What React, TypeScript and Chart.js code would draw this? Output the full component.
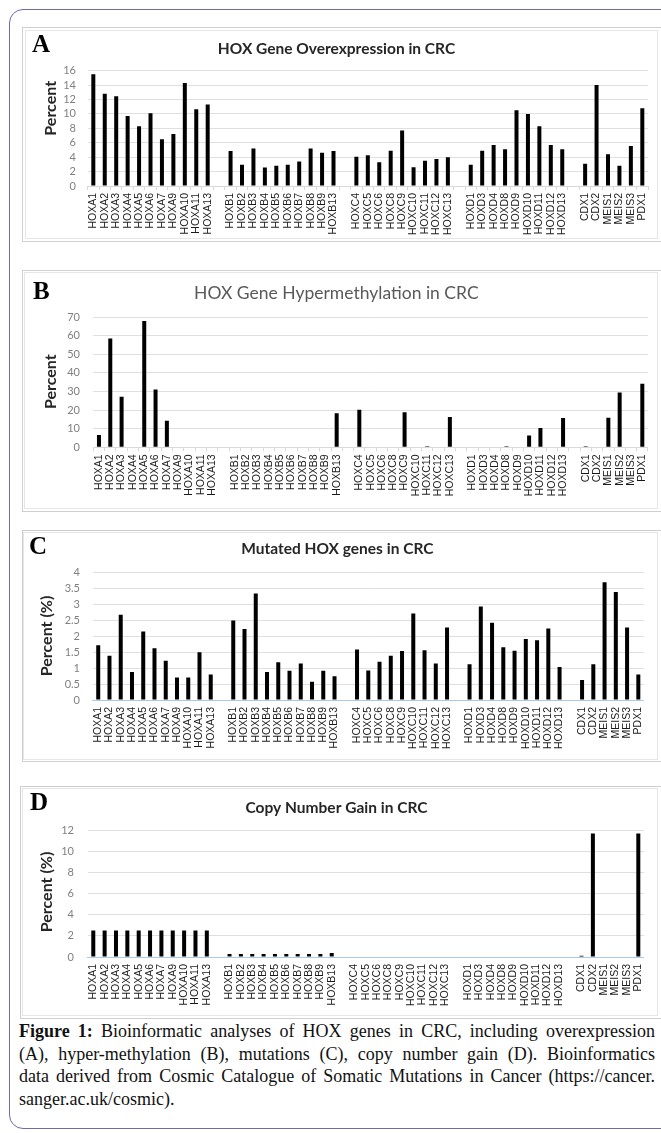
import React, { useEffect, useRef } from "react";
import { Chart, registerables } from "chart.js";
Chart.register(...registerables);

// ---------- data ----------
const genes: string[] = [
  "HOXA1", "HOXA2", "HOXA3", "HOXA4", "HOXA5", "HOXA6", "HOXA7", "HOXA9", "HOXA10", "HOXA11", "HOXA13", "",
  "HOXB1", "HOXB2", "HOXB3", "HOXB4", "HOXB5", "HOXB6", "HOXB7", "HOXB8", "HOXB9", "HOXB13", "",
  "HOXC4", "HOXC5", "HOXC6", "HOXC8", "HOXC9", "HOXC10", "HOXC11", "HOXC12", "HOXC13", "",
  "HOXD1", "HOXD3", "HOXD4", "HOXD8", "HOXD9", "HOXD10", "HOXD11", "HOXD12", "HOXD13", "",
  "CDX1", "CDX2", "MEIS1", "MEIS2", "MEIS3", "PDX1",
];

const overexpression: (number | null)[] = [
  15.5, 12.8, 12.45, 9.7, 8.3, 10.1, 6.5, 7.2, 14.3, 10.65, 11.3, null,
  4.86, 2.96, 5.2, 2.55, 2.8, 2.96, 3.4, 5.2, 4.6, 4.86, null,
  4.07, 4.26, 3.3, 4.9, 7.7, 2.6, 3.5, 3.75, 4.0, null,
  2.96, 4.9, 5.7, 5.1, 10.5, 10.0, 8.3, 5.7, 5.1, null,
  3.1, 14.0, 4.4, 2.8, 5.55, 10.8,
];

const hypermethylation: (number | null)[] = [
  6.6, 58.5, 27.2, 0, 67.8, 31.1, 14.3, 0, 0, 0, 0, null,
  0, 0, 0, 0, 0, 0, 0, 0, 0, 18.3, null,
  20.2, 0, 0, 0, 18.8, 0, 0.6, 0, 16.3, null,
  0, 0, 0, 0.6, 0, 6.4, 10.4, 0, 15.75, null,
  0.6, 0, 15.9, 29.4, 0, 34.2,
];

const mutated: (number | null)[] = [
  1.72, 1.39, 2.68, 0.88, 2.15, 1.63, 1.23, 0.71, 0.71, 1.5, 0.8, null,
  2.5, 2.23, 3.35, 0.88, 1.19, 0.92, 1.15, 0.57, 0.92, 0.75, null,
  1.59, 0.93, 1.2, 1.39, 1.54, 2.72, 1.56, 1.15, 2.28, null,
  1.12, 2.94, 2.43, 1.66, 1.55, 1.92, 1.88, 2.25, 1.04, null,
  0.63, 1.12, 3.7, 3.39, 2.28, 0.8,
];

const copyGain: (number | null)[] = [
  2.5, 2.5, 2.5, 2.5, 2.5, 2.5, 2.5, 2.5, 2.5, 2.5, 2.5, null,
  0.28, 0.28, 0.28, 0.28, 0.28, 0.28, 0.28, 0.28, 0.28, 0.38, null,
  0, 0, 0, 0, 0, 0, 0, 0, 0, null,
  0, 0, 0, 0, 0, 0, 0, 0, 0, null,
  0.12, 11.7, 0, 0, 0, 11.7,
];

const titles = [
  "HOX Gene Overexpression in CRC",
  "HOX Gene Hypermethylation in CRC",
  "Mutated HOX genes in CRC",
  "Copy Number Gain in CRC",
];
const yTitles = ["Percent", "Percent", "Percent (%)", "Percent (%)"];
const yMaxes = [16, 70, 4, 12];
const ySteps = [2, 10, 0.5, 2];
const panelLetters = ["A", "B", "C", "D"];

// ---------- layout ----------
type PanelCfg = {
  data: (number | null)[];
  title: string;
  titleSize: number;
  titleWeight: string;
  titleColor: string;
  titleY: number;
  yTitle: string;
  yTitleX: number;
  yTitleY: number;
  yMax: number;
  yStep: number;
  yTickPad: number;
  axisColor: string;
  xTicks: boolean;
  L: number; T: number; W: number; H: number;
  areaLeft: number; areaRight: number; areaTop: number; areaBottom: number;
};

const panels: PanelCfg[] = [
  {
    data: overexpression, title: titles[0], titleSize: 15.5, titleWeight: "bold", titleColor: "#262626", titleY: 49,
    yTitle: yTitles[0], yTitleX: 50.7, yTitleY: 108.3, yMax: yMaxes[0], yStep: ySteps[0], yTickPad: 11.6, axisColor: "#d9d9d9", xTicks: true,
    L: 24, T: 32, W: 634, H: 206, areaLeft: 87.6, areaRight: 649, areaTop: 70.7, areaBottom: 186,
  },
  {
    data: hypermethylation, title: titles[1], titleSize: 17.5, titleWeight: "normal", titleColor: "#595959", titleY: 293,
    yTitle: yTitles[1], yTitleX: 50.7, yTitleY: 381.7, yMax: yMaxes[1], yStep: ySteps[1], yTickPad: 13.3, axisColor: "#d9d9d9", xTicks: true,
    L: 24, T: 273, W: 634, H: 235, areaLeft: 93.3, areaRight: 648.7, areaTop: 317, areaBottom: 447.3,
  },
  {
    data: mutated, title: titles[2], titleSize: 15.5, titleWeight: "bold", titleColor: "#262626", titleY: 549,
    yTitle: yTitles[2], yTitleX: 46.7, yTitleY: 636, yMax: yMaxes[2], yStep: ySteps[2], yTickPad: 12.6, axisColor: "#a9cbea", xTicks: false,
    L: 24, T: 533, W: 634, H: 225, areaLeft: 92.6, areaRight: 650.7, areaTop: 572.7, areaBottom: 700,
  },
  {
    data: copyGain, title: titles[3], titleSize: 15.5, titleWeight: "bold", titleColor: "#262626", titleY: 807.7,
    yTitle: yTitles[3], yTitleX: 47.3, yTitleY: 892, yMax: yMaxes[3], yStep: ySteps[3], yTickPad: 13.6, axisColor: "#a9cbea", xTicks: false,
    L: 24, T: 789, W: 634, H: 226, areaLeft: 87.6, areaRight: 649, areaTop: 830.3, areaBottom: 957,
  },
];

const boxes = [
  { outer: { left: 22, top: 27, width: 700, height: 215 }, inner: { left: 25, top: 30, width: 633, height: 209 } },
  { outer: { left: 22, top: 270, width: 700, height: 242 }, inner: { left: 24, top: 272, width: 634, height: 237 } },
  { outer: { left: 22, top: 530, width: 700, height: 232 }, inner: { left: 23, top: 532, width: 635, height: 228 } },
  { outer: { left: 20, top: 786, width: 700, height: 233 }, inner: { left: 22, top: 788, width: 636, height: 228 } },
];

const letterPos = [
  { left: 32, top: 30.6 },
  { left: 33, top: 277.5 },
  { left: 29, top: 532.6 },
  { left: 30, top: 788.6 },
];

const yTitlePlugin = {
  id: "yTitleText",
  afterDraw(chart: any, _args: any, opts: any) {
    const ctx = chart.ctx;
    ctx.save();
    ctx.translate(opts.x, opts.y);
    ctx.rotate(-Math.PI / 2);
    ctx.font = "bold 16px Lato";
    ctx.fillStyle = "#262626";
    ctx.textAlign = "center";
    ctx.textBaseline = "middle";
    ctx.fillText(opts.text, 0, 0);
    ctx.restore();
  },
};

function ChartPanel({ cfg }: { cfg: PanelCfg }) {
  const ref = useRef<HTMLCanvasElement>(null);
  useEffect(() => {
    const lh = cfg.titleSize * 1.2;
    const pT = cfg.titleY - cfg.T - lh / 2;
    const pB = cfg.areaTop - cfg.T - pT - lh;
    const yw = cfg.areaLeft - cfg.L;
    const pr = cfg.L + cfg.W - cfg.areaRight;
    const xh = cfg.T + cfg.H - cfg.areaBottom;
    const chart = new Chart(ref.current as HTMLCanvasElement, {
      type: "bar",
      data: {
        labels: genes,
        datasets: [{
          data: cfg.data as any, backgroundColor: "#000000", barThickness: 4,
          inflateAmount: 0, borderWidth: 0,
        } as any],
      },
      options: {
        responsive: false,
        animation: false,
        layout: { padding: { left: 0, right: pr, top: 0, bottom: 0 } },
        plugins: {
          legend: { display: false },
          tooltip: { enabled: false },
          title: {
            display: true,
            text: cfg.title,
            color: cfg.titleColor,
            font: { family: "Lato", size: cfg.titleSize, weight: cfg.titleWeight as any, lineHeight: 1.2 },
            padding: { top: pT, bottom: pB },
          },
          yTitleText: { x: cfg.yTitleX - cfg.L, y: cfg.yTitleY - cfg.T, text: cfg.yTitle },
        } as any,
        scales: {
          x: {
            grid: {
              display: true, drawOnChartArea: false, drawTicks: cfg.xTicks,
              tickLength: cfg.xTicks ? 4 : 0, offset: true, color: "#d9d9d9",
            },
            border: { display: true, color: cfg.axisColor },
            ticks: {
              autoSkip: false, maxRotation: 90, minRotation: 90, padding: cfg.xTicks ? 3 : 7, color: "#1a1a1a",
              font: { family: "Liberation Sans", size: 10.5 },
            },
            afterFit: (s: any) => { s.height = xh; },
          },
          y: {
            min: 0, max: cfg.yMax,
            ticks: {
              stepSize: cfg.yStep, autoSkip: false, padding: cfg.yTickPad, color: "#808080",
              font: { family: "Lato", size: 11 },
              callback: (v: any) => String(Math.round(Number(v) * 100) / 100),
            },
            grid: {
              drawTicks: false,
              color: (c: any) => (c.tick && c.tick.value === 0 ? cfg.axisColor : "#e0e0e0"),
            },
            border: { display: false },
            afterFit: (s: any) => { s.width = yw; },
          },
        },
      },
      plugins: [yTitlePlugin as any],
    });
    return () => chart.destroy();
  }, []);
  return (
    <canvas
      ref={ref}
      width={cfg.W}
      height={cfg.H}
      style={{ position: "absolute", left: cfg.L, top: cfg.T, width: cfg.W, height: cfg.H }}
    />
  );
}

export default function App() {
  const lineStyle: React.CSSProperties = { textAlign: "justify", textAlignLast: "justify" as any, whiteSpace: "nowrap" };
  return (
    <div style={{ position: "absolute", left: 0, top: 0, width: 661, height: 1133, overflow: "hidden", background: "#fff" }}>
      <div
        style={{
          position: "absolute", left: 9, top: 9, width: 700, height: 1120,
          border: "1.5px solid #7269aa", borderRadius: 14, boxSizing: "border-box",
        }}
      />
      {boxes.map((b, i) => (
        <React.Fragment key={"box" + i}>
          <div style={{ position: "absolute", ...b.outer, border: "1px solid #cfcfcf", boxSizing: "border-box", background: "#fff" }} />
          <div style={{ position: "absolute", ...b.inner, border: "1px solid #e6e6e6", boxSizing: "border-box", background: "#fff" }} />
        </React.Fragment>
      ))}
      {panels.map((p, i) => (
        <ChartPanel key={"chart" + i} cfg={p} />
      ))}
      {panelLetters.map((l, i) => (
        <div
          key={"letter" + i}
          style={{
            position: "absolute", left: letterPos[i].left, top: letterPos[i].top,
            fontFamily: "'Liberation Serif', 'Times New Roman', serif", fontWeight: "bold",
            fontSize: 25, lineHeight: "25px", color: "#000",
          }}
        >
          {l}
        </div>
      ))}
      <div
        style={{
          position: "absolute", left: 19, top: 1020, width: 636,
          fontFamily: "'Liberation Serif', 'Times New Roman', serif", fontSize: 18, lineHeight: "22.7px", color: "#111",
        }}
      >
        <div style={lineStyle}><b>Figure 1:</b> Bioinformatic analyses of HOX genes in CRC, including overexpression</div>
        <div style={lineStyle}>(A), hyper-methylation (B), mutations (C), copy number gain (D). Bioinformatics</div>
        <div style={lineStyle}>data derived from Cosmic Catalogue of Somatic Mutations in Cancer (https://cancer.</div>
        <div style={{ whiteSpace: "nowrap" }}>sanger.ac.uk/cosmic).</div>
      </div>
    </div>
  );
}
